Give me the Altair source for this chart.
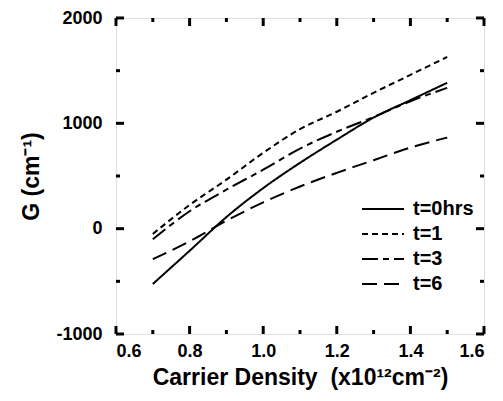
import altair as alt
import pandas as pd

# ---- data ----
density = [0.7, 0.8, 0.9, 1.0, 1.1, 1.2, 1.3, 1.4, 1.5]
g_t0 = [-525, -210, 110, 385, 625, 845, 1055, 1220, 1385]
g_t1 = [-50, 225, 465, 720, 945, 1110, 1290, 1460, 1630]
g_t3 = [-100, 165, 370, 560, 760, 920, 1060, 1210, 1337]
g_t6 = [-290, -120, 75, 250, 400, 530, 650, 770, 865]
series = ["t=0hrs", "t=1", "t=3", "t=6"]
dashes = [[1, 0], [6, 4], [16, 5, 6, 5], [15, 7]]

x_major = [0.6, 0.8, 1.0, 1.2, 1.4, 1.6]
x_minor = [0.7, 0.9, 1.1, 1.3, 1.5]
y_major = [-1000, 0, 1000, 2000]
y_minor = [-500, 500, 1500]

W, H = 368, 316
FONT = "Liberation Sans"

rows = []
for name, vals in zip(series, [g_t0, g_t1, g_t3, g_t6]):
    for d, g in zip(density, vals):
        rows.append({"density": d, "G": g, "series": name})
df = pd.DataFrame(rows)

xs = alt.Scale(domain=[0.6, 1.6], nice=False, zero=False)
ys = alt.Scale(domain=[-1000, 2000], nice=False, zero=False)

lines = alt.Chart(df).mark_line(color="black", strokeWidth=2, interpolate="monotone").encode(
    x=alt.X("density:Q", scale=xs,
            axis=alt.Axis(values=x_major, format=".1f", ticks=False, domain=False, grid=False,
                          labelFont=FONT, labelFontSize=18, labelFontWeight="bold",
                          labelColor="black", labelPadding=8,
                          title="Carrier Density\u00a0\u00a0(x10¹²cm⁻²)", titleFont=FONT,
                          titleFontSize=23, titleFontWeight="bold", titleColor="black",
                          titlePadding=6)),
    y=alt.Y("G:Q", scale=ys,
            axis=alt.Axis(values=y_major, format="d", ticks=False, domain=False, grid=False,
                          labelExpr="replace(datum.label, '\u2212', '-')",
                          labelFont=FONT, labelFontSize=18, labelFontWeight="bold",
                          labelColor="black", labelPadding=14,
                          title="G (cm⁻¹)", titleFont=FONT, titleFontSize=23,
                          titleFontWeight="bold", titleColor="black", titlePadding=12)),
    strokeDash=alt.StrokeDash("series:N", scale=alt.Scale(domain=series, range=dashes),
                              legend=alt.Legend(title=None, orient="none", legendX=257, legendY=181,
                                                symbolType="M-3,0H3", symbolSize=196,
                                                symbolStrokeWidth=2, symbolStrokeColor="black",
                                                symbolFillColor="transparent",
                                                labelFont=FONT, labelFontSize=20,
                                                labelFontWeight="bold", labelColor="black",
                                                labelOffset=20, rowPadding=5)),
    detail="series:N",
)

def tick_layer(vals, axis, length, side):
    d = pd.DataFrame({"v": vals})
    base = alt.Chart(d).mark_rule(color="black", strokeWidth=3)
    if axis == "x":
        if side == "bottom":
            return base.encode(x=alt.X("v:Q", scale=xs), y=alt.value(H), y2=alt.value(H - length))
        return base.encode(x=alt.X("v:Q", scale=xs), y=alt.value(0), y2=alt.value(length))
    if side == "left":
        return base.encode(y=alt.Y("v:Q", scale=ys), x=alt.value(0), x2=alt.value(length))
    return base.encode(y=alt.Y("v:Q", scale=ys), x=alt.value(W), x2=alt.value(W - length))

ticks = [
    tick_layer(x_major, "x", 8, "bottom"), tick_layer(x_minor, "x", 4, "bottom"),
    tick_layer(x_major, "x", 8, "top"), tick_layer(x_minor, "x", 4, "top"),
    tick_layer(y_major, "y", 8, "left"), tick_layer(y_minor, "y", 4, "left"),
    tick_layer(y_major, "y", 8, "right"), tick_layer(y_minor, "y", 4, "right"),
]

chart = alt.layer(lines, *ticks).properties(
    width=W, height=H,
    autosize=alt.AutoSizeParams(type="none"),
    padding={"left": 108, "top": 10, "right": 10, "bottom": 70},
).configure_view(stroke="black", strokeWidth=3).configure(background="white")

chart.save("out.html", embed_options={"renderer": "svg", "actions": False})
